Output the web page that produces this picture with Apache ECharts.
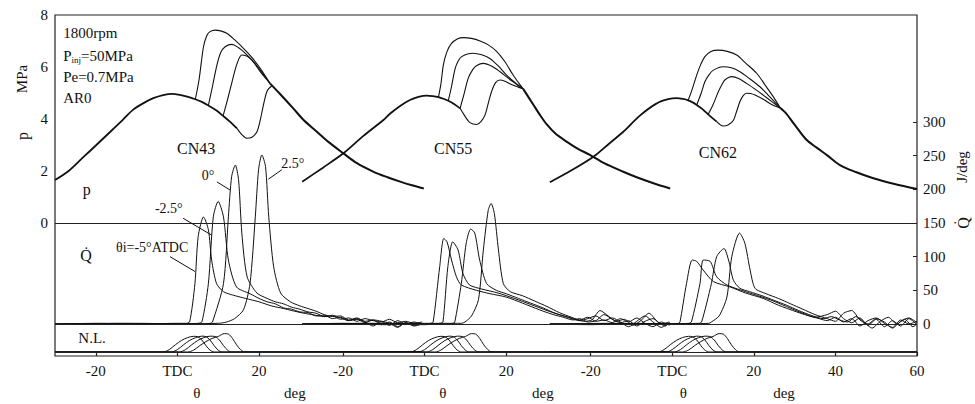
<!DOCTYPE html>
<html><head><meta charset="utf-8">
<script src="https://cdn.jsdelivr.net/npm/echarts@6/dist/echarts.min.js"></script>
<style>html,body{margin:0;padding:0;background:#fff}#c{width:975px;height:404px}</style>
</head><body><div id="c"></div>
<script>
const FONT = '"Liberation Serif","DejaVu Serif",serif';
const INK = '#111';

// ---- panels / axes ----
const panelNames = ['CN43', 'CN55', 'CN62'];
const panelOffsets = [0, 60.6, 121.3];          // where each panel's TDC sits on the shared crank-angle axis
const xTickDeg = [[-20, 0, 20], [-20, 0, 20], [-20, 0, 20, 40, 60]];
const pTickLabels = [0, 2, 4, 6, 8];
const qTickLabels = [0, 50, 100, 150, 200, 250, 300];
const injTimings = ['-5°', '-2.5°', '0°', '2.5°'];

// ---- cylinder pressure p (MPa): [deg ATDC, p] ----
const pMotorCN43 = [[-30,1.65],[-26.5,2.02],[-23,2.54],[-20,2.98],[-16.5,3.5],[-13.5,3.95],[-10.9,4.35],[-8.2,4.62],[-5.9,4.8],[-3.5,4.92],[-1.3,4.97],[0.6,4.93],[2.4,4.86],[4.4,4.76],[6,4.66],[7.6,4.52],[9.5,4.34],[11.2,4.12],[13,3.88],[14.6,3.64]];
const pBurnCN43_m5  = [[4.4,4.76],[5.3,5.5],[6.4,6.78],[7.2,7.2],[8,7.36],[9.3,7.42],[10.6,7.39],[12.1,7.3],[14,7.05],[16.2,6.72],[18.2,6.38],[20.3,5.95],[22.7,5.37]];
const pBurnCN43_m25 = [[7.6,4.52],[8.6,5.25],[9.7,6.08],[10.6,6.55],[11.7,6.78],[13.4,6.87],[15,6.74],[16.2,6.59],[18.2,6.28],[20.3,5.88],[22.7,5.37]];
const pBurnCN43_0   = [[11.2,4.12],[12.3,4.75],[13.4,5.43],[14.6,6.12],[15.8,6.46],[16.8,6.43],[17.8,6.33],[19,6.12],[20.3,5.82],[22.7,5.37]];
const pBurnCN43_p25 = [[14.6,3.64],[15.8,3.4],[17,3.26],[18.3,3.3],[19.5,3.51],[20.3,3.95],[21.1,4.54],[22,5.08],[23.2,5.28]];
const pExpandCN43 = [[22.7,5.37],[25,4.99],[28.4,4.41],[31,3.95],[34.2,3.51],[37,3.12],[40.7,2.68],[44,2.3],[48.1,1.97],[51.5,1.76],[54.6,1.59],[57.5,1.45],[60.4,1.33]];

const pMotorCN55 = [[-30,1.59],[-25,2.12],[-19.9,2.68],[-15,3.35],[-10.1,3.96],[-8.5,4.2],[-6,4.5],[-3.6,4.73],[-1.5,4.85],[0.5,4.9],[2,4.88],[3.4,4.84],[4.6,4.78],[5.8,4.7],[7.3,4.57],[8.7,4.41]];
const pBurnCN55_m5  = [[3.4,4.84],[4,5.35],[4.6,6.08],[5.5,6.6],[6.6,6.91],[8,7.08],[9.5,7.13],[11.5,7.1],[13.6,7.0],[15.7,6.84],[17.7,6.59],[19.7,6.2],[21.7,5.69],[23.1,5.38],[24.2,5.15]];
const pBurnCN55_m25 = [[5.8,4.7],[6.6,5.25],[7.5,5.95],[8.3,6.25],[9.1,6.4],[10.5,6.5],[11.9,6.53],[14,6.47],[16,6.33],[18,6.05],[20.1,5.69],[22.2,5.4],[24.2,5.15]];
const pBurnCN55_0   = [[8.7,4.41],[9.7,4.98],[10.7,5.57],[11.8,5.9],[12.8,6.06],[14.4,6.14],[16.5,6.03],[18.5,5.82],[20.1,5.62],[21.7,5.43],[23,5.28],[24.2,5.15]];
const pBurnCN55_p25 = [[8.7,4.41],[10,4.08],[11.1,3.86],[12.8,3.79],[13.8,3.9],[14.8,4.15],[15.6,4.6],[16.4,5.05],[17.4,5.4],[18.5,5.5],[19.7,5.45],[21,5.35],[22.6,5.25],[24.2,5.15]];
const pExpandCN55 = [[24.2,5.15],[26.7,4.54],[28.3,4.15],[29.9,3.8],[32,3.45],[34.8,3.13],[37.5,2.86],[40.5,2.62],[44,2.3],[48.7,1.97],[52,1.76],[56.1,1.53],[60.2,1.33]];

const pMotorCN62 = [[-30,1.57],[-25,2.0],[-19.3,2.55],[-15.5,3.05],[-12,3.51],[-8,4.12],[-3.8,4.6],[-1,4.76],[1.1,4.8],[2.6,4.77],[3.9,4.72],[5,4.64],[6,4.54],[7.4,4.38],[8.8,4.18],[10.9,3.9]];
const pBurnCN62_m5  = [[3.9,4.72],[4.8,5.1],[6,5.69],[7,6.1],[8,6.4],[9.5,6.6],[11.3,6.65],[13.5,6.6],[15.8,6.46],[18,6.15],[20.7,5.76],[22.8,5.3],[24.8,4.85],[26.5,4.42]];
const pBurnCN62_m25 = [[6,4.54],[7,4.95],[8,5.43],[9,5.7],[10.1,5.88],[12.5,6.01],[14.5,5.97],[16.6,5.82],[19,5.55],[21.5,5.24],[23.5,4.92],[25,4.68],[26.5,4.42]];
const pBurnCN62_0   = [[8.8,4.18],[10,4.55],[11.3,5.05],[12.1,5.3],[12.9,5.5],[14.6,5.63],[16.4,5.55],[18.2,5.37],[20.3,5.15],[22.3,4.92],[24.5,4.66],[26.5,4.42]];
const pBurnCN62_p25 = [[10.9,3.9],[12.5,3.73],[13.8,3.78],[15,3.95],[15.8,4.3],[16.6,4.67],[17.4,4.9],[18.2,4.99],[19.2,4.98],[20.3,4.92],[22.5,4.74],[24.5,4.55],[26.5,4.42]];
const pExpandCN62 = [[26.5,4.42],[28,4.2],[30,3.78],[32.9,3.2],[35.4,2.9],[38,2.6],[41.1,2.23],[45,1.96],[49.3,1.72],[54.5,1.5],[60,1.31]];

// ---- heat release rate Q (J/deg): [deg ATDC, Q] ----
const qCN43_m5  = [[-30,0],[-20,1],[-10,0],[0,1],[2,1],[3,3],[4.3,60],[5.1,130],[6.4,159],[7.6,140],[8.4,95],[9.6,60],[11.3,48],[13,44],[15.4,40],[18,36],[20,33],[23,27],[26,23],[28,20],[31,16],[33,14],[36,11],[38,12],[40,7],[42,9],[44,4],[46,8],[48,5],[50,3],[52,7],[54,2],[56,4],[58,1],[60,3]];
const qCN43_m25 = [[-30,0],[-15,1],[0,0],[5,1],[6,3],[7.6,60],[8.8,159],[10,182],[11.3,159],[12.5,95],[14.5,55],[17.8,45],[20,38],[22,33],[24,30],[26,24],[28,22],[30,18],[32,17],[34,12],[36,13],[38,8],[40,10],[42,5],[44,7],[46,2],[48,6],[50,4],[52,-2],[54,5],[56,0],[58,3],[60,-1]];
const qCN43_0   = [[-30,0],[-10,1],[5,0],[8,1],[8.6,3],[11.3,60],[12.5,159],[13.3,219],[14.2,236],[15,214],[15.8,135],[17.1,70],[19.5,46],[22,38],[24,33],[26,30],[28,25],[30,22],[32,18],[34,16],[36,11],[38,13],[40,9],[42,5],[44,8],[46,3],[48,-3],[50,4],[52,1],[54,-5],[56,2],[58,-2],[60,1]];
const qCN43_p25 = [[-30,0],[-5,0],[10,1],[12.1,3],[14,8],[16.2,21],[17.8,60],[19.1,159],[19.9,229],[20.7,251],[21.6,234],[22.4,159],[23.6,85],[25.3,46],[27.7,33],[30,27],[32,23],[34,19],[36,14],[38,11],[40,12],[42,6],[44,9],[46,4],[48,6],[50,-1],[52,3],[54,-4],[56,2],[58,-3],[60,0]];

const qCN55_m5  = [[-30,0],[-20,1],[-10,-1],[0,0],[1.5,1],[2.1,3],[3.7,85],[4.7,127],[5.5,122],[6.6,95],[7.8,70],[9,58],[12.7,50],[16,45],[20,40],[24,31],[28.2,21],[31,15],[34,10],[36.4,6],[38,8],[40,3],[42,5],[44,14],[46,7],[48,2],[50,5],[52,-3],[54,4],[56,8],[58,0],[60,3]];
const qCN55_m25 = [[-30,0],[-15,1],[0,-1],[3.8,1],[4.5,3],[5.7,85],[6.9,122],[8.2,110],[9.4,75],[11,58],[14,52],[18,46],[22,38],[26,29],[30,20],[33,14],[36,9],[38,6],[40,10],[42,4],[44,6],[46,2],[48,8],[50,3],[52,9],[54,1],[56,-4],[58,3],[60,-2]];
const qCN55_0   = [[-30,0],[-10,1],[5,0],[7,1],[7.4,3],[9,60],[10.2,120],[11.3,141],[12.3,135],[13.5,95],[15.2,60],[17.6,50],[20,45],[23,38],[26,31],[29,24],[32,16],[35,10],[38,5],[40,8],[42,12],[44,5],[46,9],[48,3],[50,-4],[52,4],[54,12],[56,3],[58,-5],[60,2]];
const qCN55_p25 = [[-30,0],[0,1],[9,1],[9.9,3],[11.5,12],[13.2,36],[14.4,110],[15.6,169],[16.3,179],[17.1,164],[18.1,110],[19.3,60],[21,48],[24,42],[27,34],[30,26],[33,17],[36,10],[39,4],[41,6],[43,20],[45,12],[47,4],[49,7],[51,-2],[53,5],[55,16],[57,4],[59,-3],[60,2]];

const qCN62_m5  = [[-30,0],[-20,-1],[-10,1],[0,0],[1.5,1],[1.9,3],[3.5,60],[4.9,95],[6,93],[7.6,80],[10.1,63],[14.2,55],[18,46],[22.3,38],[26,28],[30.5,18],[33,13],[36,8],[38,5],[40,10],[42,3],[44,8],[46,-3],[48,5],[50,9],[52,1],[54,-5],[56,6],[58,0],[60,4]];
const qCN62_m25 = [[-30,0],[-15,1],[0,0],[4,1],[4.7,3],[6.8,60],[7.6,95],[9.3,93],[10.9,70],[13.4,58],[16,52],[20,44],[24,36],[28,26],[32,16],[35,10],[38,14],[40,19],[42,8],[44,2],[46,9],[48,-2],[50,7],[52,-4],[54,5],[56,-3],[58,8],[60,-1]];
const qCN62_0   = [[-30,0],[-10,0],[6.5,1],[7.2,3],[9.6,60],[10.9,100],[12.7,112],[13.8,95],[15,65],[16.6,53],[19,48],[22,42],[25,35],[28,28],[31,20],[34,13],[37,8],[39,11],[41,6],[43,3],[45,11],[47,3],[49,-6],[51,4],[53,10],[55,0],[57,7],[59,-4],[60,0]];
const qCN62_p25 = [[-30,0],[0,0],[9,1],[9.6,3],[11.5,12],[13.4,40],[14.6,100],[16.5,135],[17.8,120],[19.1,80],[20.3,53],[23,45],[26,38],[29,30],[32,22],[35,14],[38,8],[40,4],[42,16],[44,20],[46,6],[48,0],[50,8],[52,3],[54,-6],[56,4],[58,9],[60,2]];

// ---- needle lift N.L. (relative): [deg ATDC, lift] ----
const nl_m5  = [[-30,0],[-3.5,0],[-2,0.15],[-0.5,0.45],[1,0.72],[2.5,0.9],[4,0.98],[5,0.95],[6,0.75],[7,0.4],[8,0.12],[9,0],[60,0]];
const nl_m25 = [[-30,0],[-1.5,0],[0,0.15],[1.5,0.45],[3,0.72],[4.5,0.9],[6,0.99],[7,0.96],[8,0.75],[9,0.4],[10,0.12],[11,0],[60,0]];
const nl_0   = [[-30,0],[0.5,0],[2,0.15],[3.5,0.45],[5,0.72],[6.5,0.9],[8,0.99],[9.2,0.97],[10.3,0.75],[11.3,0.4],[12.3,0.12],[13.3,0],[60,0]];
const nl_p25 = [[-30,0],[2.5,0],[4,0.12],[5.5,0.4],[7,0.65],[8.5,0.85],[10,0.97],[11.5,1.15],[12.5,1.12],[13.5,0.85],[14.5,0.45],[15.5,0.15],[16.5,0],[60,0]];

const panels = [
  {motor: pMotorCN43, burn: [pBurnCN43_m5, pBurnCN43_m25, pBurnCN43_0, pBurnCN43_p25], expand: pExpandCN43, q: [qCN43_m5, qCN43_m25, qCN43_0, qCN43_p25]},
  {motor: pMotorCN55, burn: [pBurnCN55_m5, pBurnCN55_m25, pBurnCN55_0, pBurnCN55_p25], expand: pExpandCN55, q: [qCN55_m5, qCN55_m25, qCN55_0, qCN55_p25]},
  {motor: pMotorCN62, burn: [pBurnCN62_m5, pBurnCN62_m25, pBurnCN62_0, pBurnCN62_p25], expand: pExpandCN62, q: [qCN62_m5, qCN62_m25, qCN62_0, qCN62_p25]}
];
const needleLift = [nl_m5, nl_m25, nl_0, nl_p25];

// ---- axis construction ----
const X_MIN = -30, X_MAX = 181.3;
const xTickAbs = [], xTickText = {};
xTickDeg.forEach((arr, k) => arr.forEach(d => {
  const v = +(d + panelOffsets[k]).toFixed(2);
  xTickAbs.push(v);
  xTickText[Math.round(v * 100)] = d === 0 ? 'TDC' : String(d);
}));
const thetaAt = [4.8, 4.5, 2.7], degAt = [28.8, 29.0, 27.4];
const unitAbs = [], unitText = {};
thetaAt.forEach((d, k) => { const v = +(d + panelOffsets[k]).toFixed(2); unitAbs.push(v); unitText[Math.round(v*100)] = 'θ'; });
degAt.forEach((d, k) => { const v = +(d + panelOffsets[k]).toFixed(2); unitAbs.push(v); unitText[Math.round(v*100)] = 'deg'; });

const txt = (size) => ({fontFamily: FONT, fontSize: size, color: INK});

// ---- series ----
const series = [];
function curve(data, yIdx, width, smooth) {
  return {type: 'line', data, xAxisIndex: 0, yAxisIndex: yIdx, showSymbol: false, symbol: 'none',
          smooth: smooth, lineStyle: {color: INK, width}, silent: true, animation: false};
}
panels.forEach((pn, k) => {
  const off = panelOffsets[k];
  const sh = a => a.map(([d, v]) => [d + off, v]);
  series.push(curve(sh(pn.motor), 0, 1.8, 0.3));
  pn.burn.forEach(b => series.push(curve(sh(b), 0, 1.1, 0.3)));
  series.push(curve(sh(pn.expand), 0, 2.0, 0.3));
  pn.q.forEach(q => series.push(curve(sh(q), 1, 1.0, 0.25)));
  needleLift.forEach(n => series.push(curve(sh(n), 2, 1.0, 0.3)));
});

// reference lines
const refLine = {silent: true, symbol: 'none', label: {show: false}, lineStyle: {color: '#222', width: 1, type: 'solid'}, animation: false};
series.push({type: 'line', data: [], yAxisIndex: 0, markLine: Object.assign({data: [{yAxis: 0}]}, refLine)});
series.push({type: 'line', data: [], yAxisIndex: 1, markLine: Object.assign({data: [{yAxis: 0}]}, refLine)});
series.push({type: 'line', data: [], yAxisIndex: 2, markLine: Object.assign({data: [{yAxis: 0}]}, refLine)});

// annotations (panel, deg ATDC, position on Q scale)
const centerNotes = [
  [0, 4.6, 261, 'CN43', 16], [1, 7.0, 260, 'CN55', 16], [2, 11.2, 255, 'CN62', 16],
  [0, -22.2, 199, 'p', 16], [0, -22.4, 101, 'Q\u0307', 16], [0, -20.9, -21, 'N.L.', 15],
  [0, 7.5, 221, '0°', 14], [0, 28.3, 238, '2.5°', 14], [0, -2.1, 171, '-2.5°', 14], [0, -6.2, 114, 'θi=-5°ATDC', 14]
];
const leftNotes = [
  [0, -28, 432, '{a|1800rpm}'], [0, -28, 398, '{a|P}{s|inj}{a|=50MPa}'],
  [0, -28, 367, '{a|Pe=0.7MPa}'], [0, -28, 336, '{a|AR0}']
];
const arrows = [
  [0, 9.7, 211, 12.9, 199], [0, 25.6, 229, 22.3, 215], [0, 1.4, 157, 8.4, 132], [0, -1.8, 100, 4.3, 78]
];
const mp = [];
centerNotes.forEach(([k, d, q, t, fs]) => mp.push({coord: [d + panelOffsets[k], q], symbol: 'circle', symbolSize: 0,
  label: Object.assign({show: true, position: 'inside', formatter: t}, txt(fs))}));
leftNotes.forEach(([k, d, q, t]) => mp.push({coord: [d + panelOffsets[k], q], symbol: 'circle', symbolSize: 0,
  label: {show: true, position: 'right', distance: 0, formatter: t,
    rich: {a: {fontFamily: FONT, fontSize: 15, color: INK, lineHeight: 18}, s: {fontFamily: FONT, fontSize: 9, color: INK, lineHeight: 18, padding: [9, 0, 0, 0]}}}}));
series.push({type: 'scatter', data: [], yAxisIndex: 1, silent: true, animation: false,
  markPoint: {silent: true, animation: false, data: mp},
  markLine: {silent: true, animation: false, symbol: ['none', 'arrow'], symbolSize: [0, 7], label: {show: false},
    lineStyle: {color: INK, width: 1, type: 'solid'},
    data: arrows.map(([k, d1, q1, d2, q2]) => [{coord: [d1 + panelOffsets[k], q1]}, {coord: [d2 + panelOffsets[k], q2]}])}
});

const chart = echarts.init(document.getElementById('c'), null, {renderer: 'svg'});
chart.setOption({
  backgroundColor: '#fff',
  animation: false,
  grid: {left: 55, right: 58, top: 15, bottom: 48, show: true, borderColor: '#222', borderWidth: 1.2, backgroundColor: 'transparent'},
  xAxis: [
    {type: 'value', min: X_MIN, max: X_MAX, position: 'bottom', splitLine: {show: false},
     axisLine: {show: false, onZero: false},
     axisTick: {show: true, inside: true, length: 4, customValues: xTickAbs, lineStyle: {color: '#222', width: 1.2}},
     axisLabel: Object.assign({show: true, margin: 7, customValues: xTickAbs, formatter: v => xTickText[Math.round(v*100)] || ''}, txt(15))},
    {type: 'value', min: X_MIN, max: X_MAX, position: 'bottom', splitLine: {show: false},
     axisLine: {show: false, onZero: false}, axisTick: {show: false},
     axisLabel: Object.assign({show: true, margin: 29, customValues: unitAbs, formatter: v => unitText[Math.round(v*100)] || ''}, txt(15))}
  ],
  yAxis: [
    {type: 'value', min: -5.115, max: 8, position: 'left', splitLine: {show: false}, axisLine: {show: false, onZero: false}, axisTick: {show: false},
     axisLabel: Object.assign({margin: 7, customValues: pTickLabels}, txt(15))},
    {type: 'value', min: -47.5, max: 458.8, position: 'right', splitLine: {show: false}, axisLine: {show: false, onZero: false},
     axisTick: {show: true, inside: true, length: 4, customValues: qTickLabels, lineStyle: {color: '#222'}},
     axisLabel: Object.assign({margin: 6, customValues: qTickLabels}, txt(15))},
    {type: 'value', min: -0.25, max: 21.06, show: false, axisLine: {onZero: false}}
  ],
  graphic: [
    {type: 'text', x: 22, y: 79, rotation: Math.PI / 2, style: {text: 'MPa', font: '15px ' + FONT, fill: INK, align: 'center', verticalAlign: 'middle'}},
    {type: 'text', x: 22, y: 136, rotation: Math.PI / 2, style: {text: 'p', font: '16px ' + FONT, fill: INK, align: 'center', verticalAlign: 'middle'}},
    {type: 'text', x: 962, y: 167, rotation: Math.PI / 2, style: {text: 'J/deg', font: '15px ' + FONT, fill: INK, align: 'center', verticalAlign: 'middle'}},
    {type: 'text', x: 963, y: 223, rotation: Math.PI / 2, style: {text: 'Q\u0307', font: '16px ' + FONT, fill: INK, align: 'center', verticalAlign: 'middle'}}
  ],
  series
});
</script></body></html>
